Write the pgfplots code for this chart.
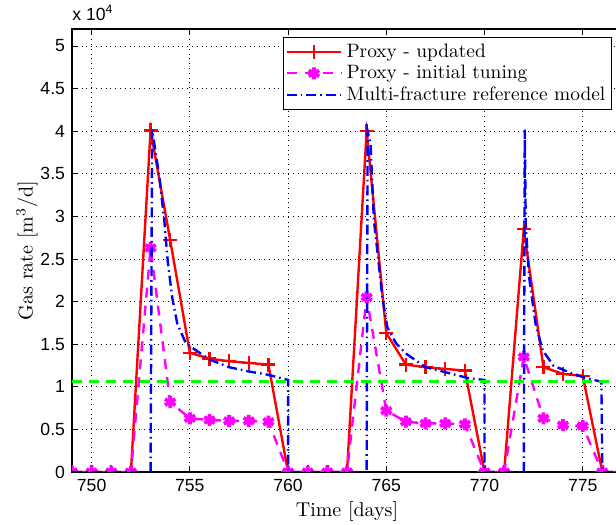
\documentclass[border=0pt]{standalone}
\usepackage{fontspec}
\newfontfamily\helv{Liberation Sans}
\usepackage{pgfplots}
\pgfplotsset{compat=1.18}
\definecolor{mlmagenta}{rgb}{1,0,1}
\definecolor{mlgreen}{rgb}{0,1,0}
\definecolor{mlblue}{rgb}{0,0,1}
\definecolor{mlred}{rgb}{1,0,0}

\pgfplotstableread{
x y
749 0
750 0
751 0
752 0
753 4.01
754 2.72
755 1.40
756 1.33
757 1.30
758 1.28
759 1.26
760 0
761 0
762 0
763 0
764 4.00
765 1.63
766 1.26
767 1.23
768 1.21
769 1.19
770 0
771 0
772 2.85
773 1.23
774 1.15
775 1.13
776 0
777 0
}\updated

\pgfplotstableread{
x y
749 0
750 0
751 0
752 0
753 2.63
754 0.82
755 0.63
756 0.61
757 0.60
758 0.60
759 0.59
760 0
761 0
762 0
763 0
764 2.05
765 0.72
766 0.59
767 0.57
768 0.57
769 0.56
770 0
771 0
772 1.35
773 0.63
774 0.55
775 0.54
776 0
777 0
}\initial

\pgfplotstableread{
x y
749 0
753 0
753.08 4.02
753.45 3.46
753.7 2.95
753.87 2.48
754.1 2.05
754.36 1.74
754.8 1.51
755.3 1.43
756 1.32
757 1.23
758 1.18
759 1.14
760 1.08
760 0
764 0
764.05 4.00
764.2 3.85
764.37 2.95
764.6 2.48
764.8 2.05
765.05 1.70
765.5 1.51
766 1.39
767 1.23
768.2 1.16
769.2 1.10
770 1.08
770 0
772 0
772.05 4.02
772.1 2.90
772.27 2.29
772.6 1.74
772.96 1.43
773.5 1.25
774.3 1.17
775.2 1.10
775.95 1.06
776 0
777 0
}\reference

\begin{document}
\begin{tikzpicture}
\begin{axis}[
  scale only axis, width=275pt, height=221.5pt,
  xmin=749, xmax=777, ymin=0, ymax=5.2,
  xtick={750,755,760,765,770,775},
  ytick={0,0.5,1,1.5,2,2.5,3,3.5,4,4.5,5},
  yticklabels={0,0.5,1,1.5,2,2.5,3,3.5,4,4.5,5},
  /pgf/number format/assume math mode=true,
  tick label style={font=\helv\fontsize{8.8}{10}\selectfont},
  grid=major, grid style={dotted, black, line width=0.5pt},
  tick align=inside, major tick length=3pt,
  tick style={black, line width=0.5pt},
  axis line style={line width=0.6pt},
  xlabel={Time [days]}, ylabel={Gas rate [m$^3$/d]},
  label style={font=\fontsize{10}{12}\selectfont},
  every axis x label/.style={at={(axis description cs:0.5,0)}, anchor=north, yshift=-11pt},
  every axis y label/.style={at={(axis description cs:0,0.5)}, xshift=-22.5pt, rotate=90, anchor=center},
  legend style={at={(1,1)}, anchor=north east, xshift=-5pt, yshift=-4pt,
    cells={anchor=west}, font=\fontsize{9.7}{10.5}\selectfont,
    inner sep=1pt, row sep=-1.5pt, line width=0.6pt},
  legend image code/.code={\draw[mark repeat=2,mark phase=2,#1] plot coordinates {(0cm,0cm) (0.48cm,0cm) (0.96cm,0cm)};},
  clip marker paths=true,
]
\addplot[mlred, line width=1.2pt, mark=+, mark size=3.5pt, mark options={solid, line width=1.2pt}] table {\updated};
\addplot[mlmagenta, line width=1.2pt, dash pattern=on 5pt off 4pt, mark=asterisk, mark size=3pt, mark options={solid, line width=1.9pt}] table {\initial};
\addplot[mlblue, line width=1.2pt, dash pattern=on 5pt off 2pt on 0.8pt off 2pt] table {\reference};
\addplot[mlgreen, line width=1.2pt, dash pattern=on 5pt off 3.5pt, forget plot] coordinates {(749,1.06) (777,1.06)};
\legend{Proxy - updated, Proxy - initial tuning, Multi-fracture reference model}
\end{axis}
\node[anchor=base west, inner sep=0pt, font=\helv\fontsize{8.8}{10}\selectfont] at ([yshift=4pt]current axis.north west) {x 10\textsuperscript{4}};
\pgfresetboundingbox
\coordinate (bl) at ([xshift=-36pt, yshift=-26.5pt]current axis.south west);
\coordinate (tr) at ([xshift=-3pt, yshift=14.5pt]current axis.north east);
\path (bl) rectangle (tr);
\end{tikzpicture}
\end{document}
